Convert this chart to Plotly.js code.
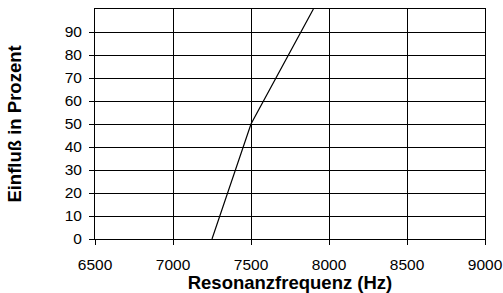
<!DOCTYPE html>
<html><head><meta charset="utf-8">
<script src="https://cdn.plot.ly/plotly-3.0.1.min.js"></script>
<style>html,body{margin:0;padding:0;background:#fff}#c{width:503px;height:293px}</style>
</head><body><div id="c"></div>
<script>
const freq = [7250, 7500, 7900];
const influence = [0, 50, 100];
const xTicks = [6500, 7000, 7500, 8000, 8500, 9000];
const yTicks = [0, 10, 20, 30, 40, 50, 60, 70, 80, 90];
const xTitle = 'Resonanzfrequenz (Hz)';
const yTitle = 'Einfluß in Prozent';

Plotly.newPlot('c', [{
  x: freq, y: influence, type: 'scatter', mode: 'lines',
  line: {color: '#000', width: 1.2}, hoverinfo: 'skip'
}], {
  width: 503, height: 293,
  margin: {l: 95, r: 18, t: 9, b: 54},
  paper_bgcolor: '#fff', plot_bgcolor: '#fff',
  showlegend: false,
  font: {family: 'Liberation Sans, Arial, sans-serif', color: '#000', size: 15.5},
  xaxis: {
    range: [6500, 9000], tickvals: xTicks, ticktext: xTicks.map(String),
    showgrid: true, gridcolor: '#000', gridwidth: 1,
    showline: true, linecolor: '#000', linewidth: 1, mirror: true,
    ticks: 'outside', ticklen: 5, tickcolor: '#000', zeroline: false,
    tickfont: {size: 15.5}, automargin: false, ticklabelstandoff: 6,
    title: {text: xTitle, font: {size: 18.5, weight: 'bold'}, standoff: 0}
  },
  yaxis: {
    range: [0, 100], tickvals: yTicks, ticktext: yTicks.map(String),
    showgrid: true, gridcolor: '#000', gridwidth: 1,
    showline: true, linecolor: '#000', linewidth: 1, mirror: true,
    ticks: 'outside', ticklen: 5, tickcolor: '#000', zeroline: false,
    tickfont: {size: 15.5}, automargin: false, ticklabelstandoff: 4,
    title: {text: yTitle, font: {size: 18.5, weight: 'bold'}, standoff: 38}
  }
}, {displayModeBar: false, staticPlot: true});
</script></body></html>
